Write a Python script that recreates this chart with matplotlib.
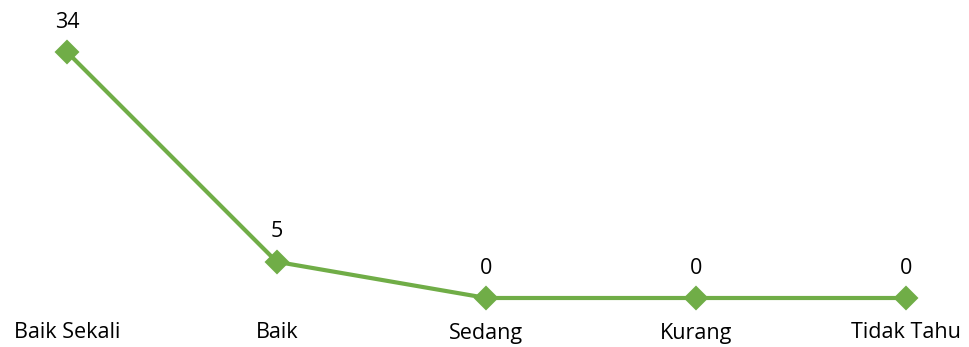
import matplotlib.pyplot as plt

categories = ['Baik Sekali', 'Baik', 'Sedang', 'Kurang', 'Tidak Tahu']
values = [34, 5, 0, 0, 0]

plt.rcParams['font.family'] = ['Open Sans', 'DejaVu Sans']

fig = plt.figure(figsize=(9.7, 3.47), dpi=100)
ax = fig.add_axes([67/970, 49/347, 839/970, 246/347])

x = list(range(len(categories)))
ax.plot(x, values, color='#70AD47', linewidth=3, marker='D', markersize=11,
        markeredgewidth=1.5, markeredgecolor='#70AD47', clip_on=False,
        solid_joinstyle='round')

ax.set_xlim(0, len(categories) - 1)
ax.set_ylim(0, 34)

for xi, v in zip(x, values):
    ax.annotate(str(v), (xi, v), xytext=(0, 30), textcoords='offset pixels',
                ha='center', va='center', fontsize=15.5, color='black')
    ax.annotate(categories[xi], (xi, 0), xytext=(0, -35), textcoords='offset pixels',
                ha='center', va='center', fontsize=15.5, color='black')

ax.axis('off')

fig.savefig('out.png', dpi=100)
